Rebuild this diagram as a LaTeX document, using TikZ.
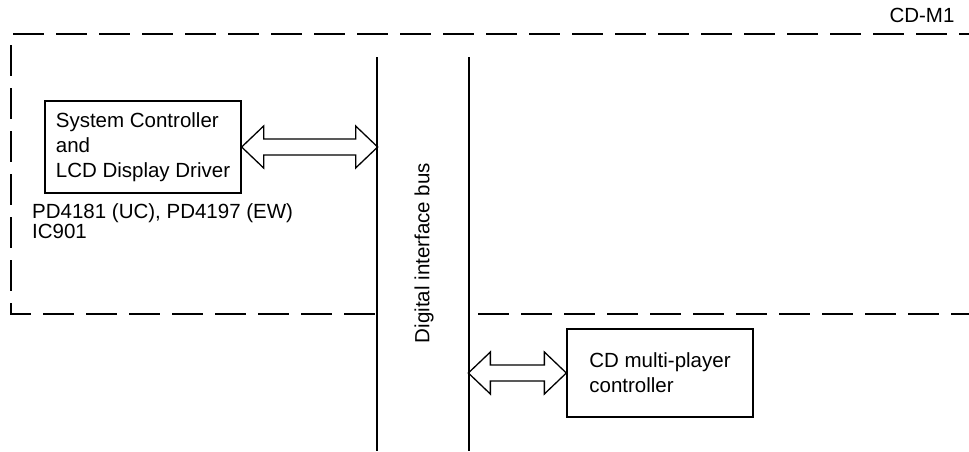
\documentclass[tikz,border=0pt]{standalone}
\usepackage{fontspec}
\setmainfont{Liberation Sans}
\usetikzlibrary{positioning,calc}

\begin{document}
\begin{tikzpicture}[
  x=1pt, y=-1pt,
  box/.style={draw, line width=1.3pt, align=left, inner xsep=8pt, font=\fontsize{20.5}{25}\selectfont},
  lbl/.style={inner sep=0pt, align=left, font=\fontsize{20.5}{20}\selectfont},
  busline/.style={line width=2pt},
  frame/.style={line width=2pt, dash pattern=on 31pt off 12pt},
  hollow/.style={line width=1.3pt, line join=miter}
]
\useasboundingbox (0,0) rectangle (969,451);
% bus lines
\coordinate (busLtop) at (377,57);
\coordinate (busLbot) at (377,451);
\coordinate (busRtop) at (469,57);
\coordinate (busRbot) at (469,451);
\draw[busline] (busLtop) -- (busLbot);
\draw[busline] (busRtop) -- (busRbot);
\node[lbl, rotate=90] (buslbl) at (424,253) {Digital interface bus};
% dashed boundary of CD-M1
\draw[frame] (13,34) -- (969,34);
\draw[frame] (11,45) |- (377,314);
\draw[frame] (478,314) -- (969,314);
\node[lbl] (model) at (922,15) {CD-M1};
% boxes
\node[box, minimum width=196, minimum height=92] (ctrl) at (143,147) {System Controller\\and\\LCD Display Driver};
\node[lbl, anchor=north west] (ic) at (32,203) {PD4181 (UC), PD4197 (EW)\\IC901};
\node[box, minimum width=186, minimum height=88] (mpc) at (660,373) {CD multi-player\\controller};
% hollow double arrows
\draw[hollow] (ctrl.east) -- ++(22,-21) -- ++(0,13) -- ++(92,0) -- ++(0,-13) -- ++(22,21)
  -- ++(-22,21) -- ++(0,-13) -- ++(-92,0) -- ++(0,13) -- cycle;
\draw[hollow] (mpc.west) -- ++(-22,-21) -- ++(0,13) -- ++(-54,0) -- ++(0,-13) -- ++(-22,21)
  -- ++(22,21) -- ++(0,-13) -- ++(54,0) -- ++(0,13) -- cycle;
\end{tikzpicture}
\end{document}
